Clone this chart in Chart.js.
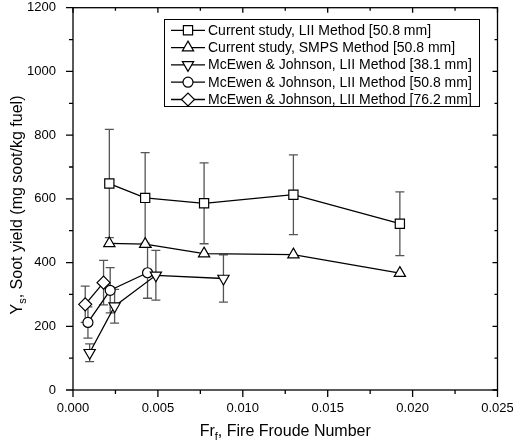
<!DOCTYPE html>
<html>
<head>
<meta charset="utf-8">
<script src="https://cdn.jsdelivr.net/npm/chart.js@4.4.1/dist/chart.umd.min.js"></script>
<style>
html,body{margin:0;padding:0;background:#fff;}
#wrap{width:513px;height:446px;position:relative;}
</style>
</head>
<body>
<div id="wrap"><canvas id="c" width="513" height="446"></canvas></div>
<script>
// ---- data ----
const frCurrent = [0.00214, 0.00425, 0.00772, 0.01298, 0.01925];
const ysLII = [648, 603, 586, 613, 522];
const errLII = [170, 142, 127, 125, 100];
const ysSMPS = [460, 458, 428, 425, 367];
const fr381 = [0.00098, 0.00245, 0.00488, 0.00886];
const ys381 = [117, 263, 360, 350];
const err381 = [28, 53, 78, 74];
const fr508 = [0.00088, 0.00219, 0.00439];
const ys508 = [212, 313, 368];
const err508 = [49, 71, 80];
const fr762 = [0.00072, 0.0018];
const ys762 = [269, 337];
const err762 = [57, 70];
const seriesNames = [
  'Current study, LII Method [50.8 mm]',
  'Current study, SMPS Method [50.8 mm]',
  'McEwen & Johnson, LII Method [38.1 mm]',
  'McEwen & Johnson, LII Method [50.8 mm]',
  'McEwen & Johnson, LII Method [76.2 mm]'
];
const xTitleMain = 'Fr', xTitleSub = 'f', xTitleRest = ', Fire Froude Number';
const yTitleMain = 'Y', yTitleSub = 's', yTitleRest = ', Soot yield (mg soot/kg fuel)';

const FONT = '"Liberation Sans", Arial, sans-serif';
const pts = (xs, ys) => xs.map((x, i) => ({x: x, y: ys[i]}));

function ds(label, xs, ys, errs, style, radius, rot) {
  return {
    label: label,
    data: pts(xs, ys),
    errors: errs,
    showLine: true,
    borderColor: '#000',
    borderWidth: 1.3,
    backgroundColor: '#fff',
    pointStyle: style,
    pointRadius: radius,
    pointHoverRadius: radius,
    pointRotation: rot || 0,
    pointBorderWidth: 1.2,
    pointBorderColor: '#000',
    pointBackgroundColor: '#fff',
    tension: 0
  };
}

const datasets = [
  ds(seriesNames[0], frCurrent, ysLII, errLII, 'rect', 6.5),
  ds(seriesNames[1], frCurrent, ysSMPS, null, 'triangle', 6.5),
  ds(seriesNames[2], fr381, ys381, err381, 'triangle', 6.5, 180),
  ds(seriesNames[3], fr508, ys508, err508, 'circle', 5),
  ds(seriesNames[4], fr762, ys762, err762, 'rectRot', 6.5)
];

const errorBars = {
  id: 'errorBars',
  beforeDatasetsDraw(chart) {
    const ctx = chart.ctx, xs = chart.scales.x, ys = chart.scales.y;
    ctx.save();
    ctx.strokeStyle = '#555';
    ctx.lineWidth = 1.3;
    chart.data.datasets.forEach(d => {
      if (!d.errors) return;
      d.data.forEach((p, i) => {
        const e = d.errors[i];
        const px = xs.getPixelForValue(p.x);
        const t = ys.getPixelForValue(p.y + e), b = ys.getPixelForValue(p.y - e);
        ctx.beginPath();
        ctx.moveTo(px, t); ctx.lineTo(px, b);
        ctx.moveTo(px - 4.5, t); ctx.lineTo(px + 4.5, t);
        ctx.moveTo(px - 4.5, b); ctx.lineTo(px + 4.5, b);
        ctx.stroke();
      });
    });
    ctx.restore();
  }
};

const frameAndTicks = {
  id: 'frameAndTicks',
  afterDraw(chart) {
    const ctx = chart.ctx, a = chart.chartArea, xs = chart.scales.x, ys = chart.scales.y;
    ctx.save();
    ctx.strokeStyle = '#000';
    ctx.lineWidth = 1.3;
    ctx.strokeRect(a.left, a.top, a.right - a.left, a.bottom - a.top);
    ctx.beginPath();
    for (let v = 0; v <= 1200.001; v += 100) {
      const py = ys.getPixelForValue(v);
      const major = Math.round(v) % 200 === 0;
      ctx.moveTo(a.left, py); ctx.lineTo(a.left - (major ? 7 : 4), py);
      ctx.moveTo(a.right, py); ctx.lineTo(a.right - (major ? 5 : 3), py);
    }
    for (let k = 0; k <= 10; k++) {
      const v = k * 0.0025;
      const px = xs.getPixelForValue(v);
      const major = k % 2 === 0;
      ctx.moveTo(px, a.bottom); ctx.lineTo(px, a.bottom + (major ? 7 : 4));
      ctx.moveTo(px, a.top); ctx.lineTo(px, a.top + (major ? 5 : 3));
    }
    ctx.stroke();

    ctx.fillStyle = '#000';
    ctx.textBaseline = 'middle';
    function drawTitle(main, sub, rest, cx, cy, rotate) {
      ctx.save();
      ctx.translate(cx, cy);
      if (rotate) ctx.rotate(-Math.PI / 2);
      ctx.font = '16px ' + FONT;
      const w1 = ctx.measureText(main).width, w3 = ctx.measureText(rest).width;
      ctx.font = '11px ' + FONT;
      const w2 = ctx.measureText(sub).width;
      const total = w1 + w2 + w3;
      let x = -total / 2;
      ctx.textAlign = 'left';
      ctx.font = '16px ' + FONT;
      ctx.fillText(main, x, 0); x += w1;
      ctx.font = '11px ' + FONT;
      ctx.fillText(sub, x, 5); x += w2;
      ctx.font = '16px ' + FONT;
      ctx.fillText(rest, x, 0);
      ctx.restore();
    }
    drawTitle(xTitleMain, xTitleSub, xTitleRest, (a.left + a.right) / 2, 432, false);
    drawTitle(yTitleMain, yTitleSub, yTitleRest, 18, 205, true);

    const H = Chart.helpers;
    ctx.lineWidth = 1;
    ctx.strokeStyle = '#000';
    ctx.strokeRect(164.5, 19.5, 315, 87);
    const rowY0 = 30.3, rowStep = 17.3;
    chart.data.datasets.forEach((d, i) => {
      const y = rowY0 + i * rowStep;
      ctx.lineWidth = 1.3;
      ctx.strokeStyle = '#000';
      ctx.beginPath(); ctx.moveTo(171, y); ctx.lineTo(205, y); ctx.stroke();
      ctx.fillStyle = '#fff';
      ctx.lineWidth = 1.2;
      H.drawPoint(ctx, {pointStyle: d.pointStyle, rotation: d.pointRotation, radius: d.pointRadius, borderWidth: 1.2}, 188, y);
      ctx.fillStyle = '#000';
      ctx.font = '14px ' + FONT;
      ctx.textAlign = 'left';
      ctx.textBaseline = 'middle';
      ctx.fillText(d.label, 208, y + 0.5);
    });
    ctx.restore();
  }
};

new Chart(document.getElementById('c'), {
  type: 'scatter',
  data: {datasets: datasets},
  options: {
    responsive: false,
    animation: false,
    events: [],
    layout: {padding: {left: 0, right: 15.5, top: 5.7, bottom: 0}},
    plugins: {legend: {display: false}, tooltip: {enabled: false}},
    scales: {
      x: {
        type: 'linear', min: 0, max: 0.025,
        grid: {display: false, drawTicks: false}, border: {display: false},
        ticks: {stepSize: 0.005, color: '#000', font: {size: 13, family: FONT}, padding: 11,
                maxRotation: 0, callback: v => Number(v).toFixed(3)},
        afterFit: s => { s.height = 56; s.paddingLeft = 0; s.paddingRight = 0; }
      },
      y: {
        type: 'linear', min: 0, max: 1200,
        grid: {display: false, drawTicks: false}, border: {display: false},
        ticks: {stepSize: 200, color: '#000', font: {size: 13, family: FONT}, padding: 17,
                callback: v => String(v)},
        afterFit: s => { s.width = 73; s.paddingTop = 0; s.paddingBottom = 0; }
      }
    }
  },
  plugins: [errorBars, frameAndTicks]
});
</script>
</body>
</html>
